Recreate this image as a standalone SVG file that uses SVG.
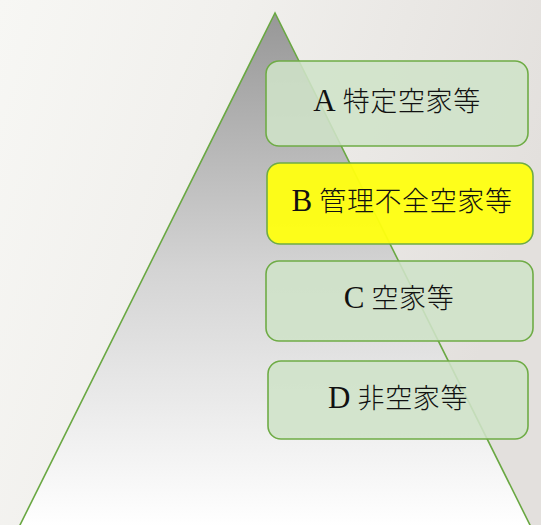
<svg xmlns="http://www.w3.org/2000/svg" width="541" height="525" viewBox="0 0 541 525">
<defs>
<linearGradient id="bg" x1="0" y1="0" x2="1" y2="0.3">
<stop offset="0" stop-color="#f7f7f4"/>
<stop offset="0.4" stop-color="#f1f0ed"/>
<stop offset="1" stop-color="#e3e0dd"/>
</linearGradient>
<linearGradient id="tri" x1="0" y1="0" x2="0" y2="1">
<stop offset="0" stop-color="#979797"/>
<stop offset="0.5" stop-color="#d4d4d4"/>
<stop offset="1" stop-color="#ffffff"/>
</linearGradient>
<style>
.box{fill:#cfe3c8;fill-opacity:0.88;stroke:#6fac46;stroke-width:1.6}
.hl{fill:#ffff10;fill-opacity:0.95;stroke:#6fac46;stroke-width:1.6}
.t{font-family:"Noto Sans CJK JP",sans-serif;font-size:27px;font-weight:300;letter-spacing:0.6px;fill:#111;text-anchor:middle}
.l{font-family:"Liberation Serif",serif;font-size:31px;font-weight:400}
</style>
</defs>
<rect width="541" height="525" fill="url(#bg)"/>
<g id="pyramid">
<path d="M275,13 L19,527 L531,527 Z" fill="url(#tri)" stroke="#6aa843" stroke-width="1.6"/>
</g>
<g id="connectors"/>
<g id="A">
<rect class="box" x="266" y="61" width="262" height="85" rx="13"/>
<text class="t" x="397" y="111"><tspan class="l">A</tspan> 特定空家等</text>
</g>
<g id="B">
<rect class="hl" x="267" y="163" width="266" height="81" rx="13"/>
<text class="t" x="402" y="211"><tspan class="l">B</tspan> 管理不全空家等</text>
</g>
<g id="C">
<rect class="box" x="266" y="261" width="267" height="80" rx="13"/>
<text class="t" x="399" y="308"><tspan class="l">C</tspan> 空家等</text>
</g>
<g id="D">
<rect class="box" x="268" y="361" width="260" height="78" rx="13"/>
<text class="t" x="398" y="408"><tspan class="l">D</tspan> 非空家等</text>
</g>
</svg>
